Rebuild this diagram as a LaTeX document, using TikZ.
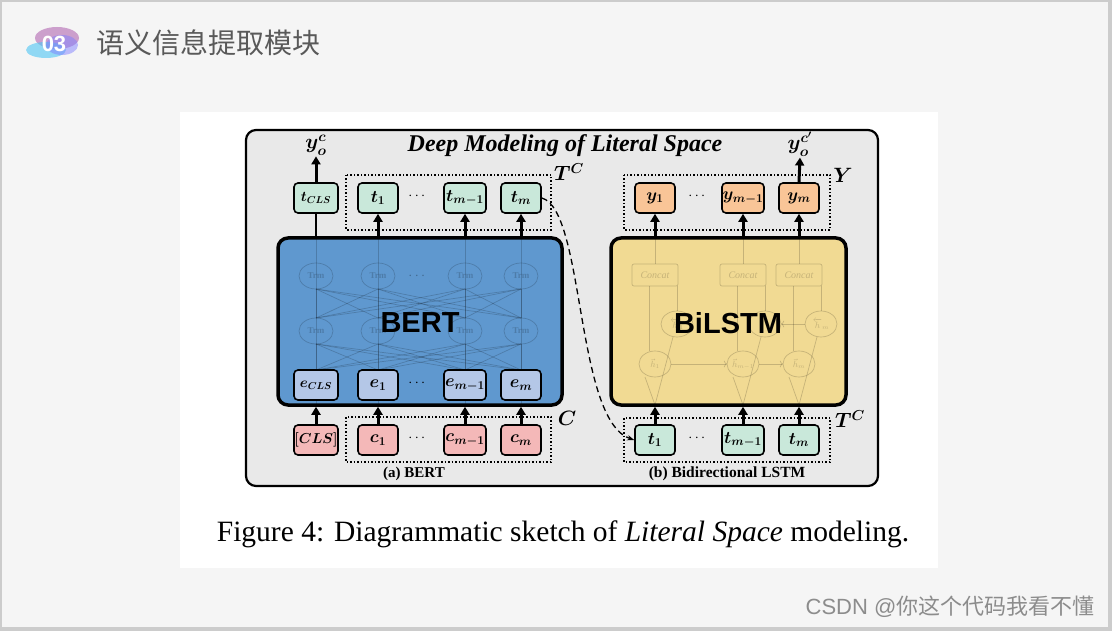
\documentclass[tikz,border=0pt]{standalone}
\usepackage{amsmath}
\usepackage{fontspec}
\setmainfont{Liberation Serif}
\setsansfont{Liberation Sans}
\newfontfamily\cjk{Noto Sans CJK SC}
\usetikzlibrary{arrows.meta}
\definecolor{tgreen}{HTML}{C9E8DA}
\definecolor{eblue}{HTML}{B4C7E7}
\definecolor{cred}{HTML}{F4B8B8}
\definecolor{yorange}{HTML}{F9C597}
\definecolor{bertblue}{HTML}{5F98CF}
\definecolor{lstmyel}{HTML}{F1DA93}
\definecolor{panel}{HTML}{E9E9E9}
\tikzset{
 box/.style={draw=black, line width=1.6pt, rounded corners=4pt, minimum height=30pt, inner sep=0pt, font=\fontsize{18}{18}\selectfont},
 tb/.style={box, fill=tgreen, minimum width=40pt},
 eb/.style={box, fill=eblue, minimum width=40pt},
 cb/.style={box, fill=cred, minimum width=40pt},
 yb/.style={box, fill=yorange, minimum width=40pt},
 cls/.style={font=\fontsize{14}{14}\selectfont, minimum width=44pt},
 grp/.style={draw=black, dotted, line width=1.5pt},
 big/.style={draw=black, line width=3.5pt, rounded corners=10pt},
 arr/.style={line width=3pt, -{Triangle[length=8pt,width=9pt]}},
 lab/.style={font=\fontsize{20}{20}\selectfont\bfseries\itshape},
 faint/.style={opacity=0.18, line width=0.7pt},
 dts/.style={font=\fontsize{14}{14}\selectfont},
}
\begin{document}
\begin{tikzpicture}[x=1pt,y=-1pt]
\useasboundingbox (0,0) rectangle (1112,631);
\fill[gray!40] (0,0) rectangle (1112,631);
\fill[white!96!black] (2,2) rectangle (1108,627);
% badge
\fill[violet!60,opacity=0.6] (57,38) ellipse (22 and 11);
\fill[cyan!70,opacity=0.6] (46,50) ellipse (20 and 8);
\fill[blue!50,opacity=0.5] (62,45) ellipse (16 and 10);
\node[font=\sffamily\bfseries\fontsize{22}{22}\selectfont, text=white] (badge) at (54,44) {03};
\node[anchor=west, font=\cjk\fontsize{28}{28}\selectfont, text=black!65] (title) at (93,43) {语义信息提取模块};
% figure area
\fill[white] (180,112) rectangle (938,568);
\node[draw=black, line width=2.2pt, rounded corners=10pt, fill=panel, minimum width=632pt, minimum height=356pt] (panel) at (562,308) {};
\node[font=\fontsize{24}{24}\selectfont\bfseries\itshape] (ttl) at (565,146) {Deep Modeling of Literal Space};
% ===== BERT =====
\node[big, fill=bertblue, minimum width=284pt, minimum height=167pt] (bert) at (420,321.5) {};
\begin{scope}[faint]
 \foreach \x in {316,378,465,521}{
  \draw (\x,238) -- (\x,405);
  \draw (\x,276) circle (17 and 13);
  \draw (\x,331) circle (17 and 13);
  \node[font=\fontsize{9}{9}\selectfont\bfseries] at (\x,276) {Trm};
  \node[font=\fontsize{9}{9}\selectfont\bfseries] at (\x,331) {Trm};
  \foreach \y in {316,378,465,521}{
   \draw (\x,370) -- (\y,344);
   \draw (\x,318) -- (\y,289);}
 }
\end{scope}
\node[font=\sffamily\bfseries\fontsize{29}{29}\selectfont] (berttxt) at (420,323) {BERT};
\node[dts, opacity=0.3] (tdots) at (418,276) {$\cdots$};
\node[eb, cls] (e0) at (316,385) {$\boldsymbol{e_{CLS}}$};
\node[eb] (e1) at (378,385) {$\boldsymbol{e_1}$};
\node[eb, minimum width=42pt] (e2) at (465,385) {$\boldsymbol{e_{m-1}}$};
\node[eb] (e3) at (521,385) {$\boldsymbol{e_m}$};
\node[dts] (edots) at (418,383) {$\cdots$};
\node[tb, cls] (t0) at (316,198) {$\boldsymbol{t_{CLS}}$};
\node[tb] (t1) at (378,198) {$\boldsymbol{t_1}$};
\node[tb, minimum width=42pt] (t2) at (465,198) {$\boldsymbol{t_{m-1}}$};
\node[tb] (t3) at (521,198) {$\boldsymbol{t_m}$};
\node[dts] (tdt) at (418,196) {$\cdots$};
\draw[grp] (346,175) rectangle (551,230);
\node[lab] (tcl) at (569,172) {$\boldsymbol{T^C}$};
\node[cb, cls] (c0) at (316,440) {$\boldsymbol{[CLS]}$};
\node[cb] (c1) at (378,440) {$\boldsymbol{c_1}$};
\node[cb, minimum width=42pt] (c2) at (465,440) {$\boldsymbol{c_{m-1}}$};
\node[cb] (c3) at (521,440) {$\boldsymbol{c_m}$};
\node[dts] (cdt) at (418,438) {$\cdots$};
\draw[grp] (346,417) rectangle (551,462);
\node[lab] (cl) at (567,418) {$\boldsymbol{C}$};
\node[lab, inner sep=1pt] (yo) at (316,145) {$\boldsymbol{y_o^c}$};
\draw[arr] (t0.north) -- (yo.south);
\draw[line width=1.2pt] (bert.north -| t0) -- (t0.south);
\foreach \n in {1,2,3}{
 \draw[arr] (bert.north -| t\n) -- (t\n.south);
}
\foreach \n in {0,1,2,3}{
 \draw[arr] (c\n.north) -- (bert.south -| c\n);
}
\node[font=\fontsize{15}{15}\selectfont\bfseries] (capa) at (414,474) {(a) BERT};
% ===== BiLSTM =====
\node[big, fill=lstmyel, minimum width=235pt, minimum height=167pt] (lstm) at (728.5,321.5) {};
\begin{scope}[faint]
 \foreach \x in {655,743,799}{
  \draw[rounded corners=2pt] (\x-23,264) rectangle (\x+23,286);
  \node[font=\fontsize{10}{10}\selectfont\itshape] at (\x,275) {Concat};
  \draw (\x,238) -- (\x,264);
  \draw (\x,364) circle (16 and 13);
  \draw (\x+22,324) circle (16 and 13);
  \draw (\x-6,286) -- (\x-6,351);
  \draw (\x+22,286) -- (\x+22,311);
  \draw (\x,405) -- (\x-10,377);
  \draw (\x,405) -- (\x+18,337);
 }
 \node[font=\fontsize{9}{9}\selectfont, inner sep=0pt] at (655,364) {$\vec h_1$};
 \node[font=\fontsize{9}{9}\selectfont, inner sep=0pt] at (743,364) {$\vec h_{m-1}$};
 \node[font=\fontsize{9}{9}\selectfont, inner sep=0pt] at (799,364) {$\vec h_m$};
 \node[font=\fontsize{9}{9}\selectfont, inner sep=0pt] at (677,324) {$\overleftarrow h_1$};
 \node[font=\fontsize{9}{9}\selectfont, inner sep=0pt] at (821,324) {$\overleftarrow h_m$};
 \draw[->] (671,364) -- (727,364);
 \draw[->] (759,364) -- (783,364);
 \draw[->] (805,324) -- (781,324);
\end{scope}
\node[font=\sffamily\bfseries\fontsize{29}{29}\selectfont] (lstmtxt) at (728,323) {BiLSTM};
\node[yb] (y1) at (655,198) {$\boldsymbol{y_1}$};
\node[yb, minimum width=42pt] (y2) at (743,198) {$\boldsymbol{y_{m-1}}$};
\node[yb] (y3) at (799,198) {$\boldsymbol{y_m}$};
\node[dts] (ydt) at (698,196) {$\cdots$};
\draw[grp] (624,175) rectangle (830,230);
\node[lab] (yl) at (843,175) {$\boldsymbol{Y}$};
\node[lab, inner sep=1pt] (yo2) at (800,144) {$\boldsymbol{y_o^{c'}}$};
\draw[arr] (y3.north) -- (yo2.south);
\foreach \n in {1,2,3}{
 \draw[arr] (lstm.north -| y\n) -- (y\n.south);
}
\node[tb] (b1) at (655,440) {$\boldsymbol{t_1}$};
\node[tb, minimum width=42pt] (b2) at (743,440) {$\boldsymbol{t_{m-1}}$};
\node[tb] (b3) at (799,440) {$\boldsymbol{t_m}$};
\node[dts] (bdt) at (698,438) {$\cdots$};
\draw[grp] (624,418) rectangle (830,462);
\node[lab] (tcl2) at (850,419) {$\boldsymbol{T^C}$};
\foreach \n in {1,2,3}{
 \draw[arr] (b\n.north) -- (lstm.south -| b\n);
}
\draw[dashed, line width=1.3pt, dash pattern=on 6pt off 4pt, -{Stealth[length=7pt]}] (t3.east) .. controls (585,210) and (575,420) .. (b1.west);
\node[font=\fontsize{15.5}{15.5}\selectfont\bfseries] (capb) at (727,474) {(b) Bidirectional LSTM};
% caption
\node[font=\fontsize{29.5}{29.5}\selectfont] (fig) at (563,534) {Figure 4: Diagrammatic sketch of \textit{Literal Space} modeling.};
\node[anchor=east, font=\fontsize{22}{22}\selectfont\sffamily, text=black!45] (wm) at (1098,607) {CSDN @{\cjk 你这个代码我看不懂}};
\end{tikzpicture}
\end{document}
